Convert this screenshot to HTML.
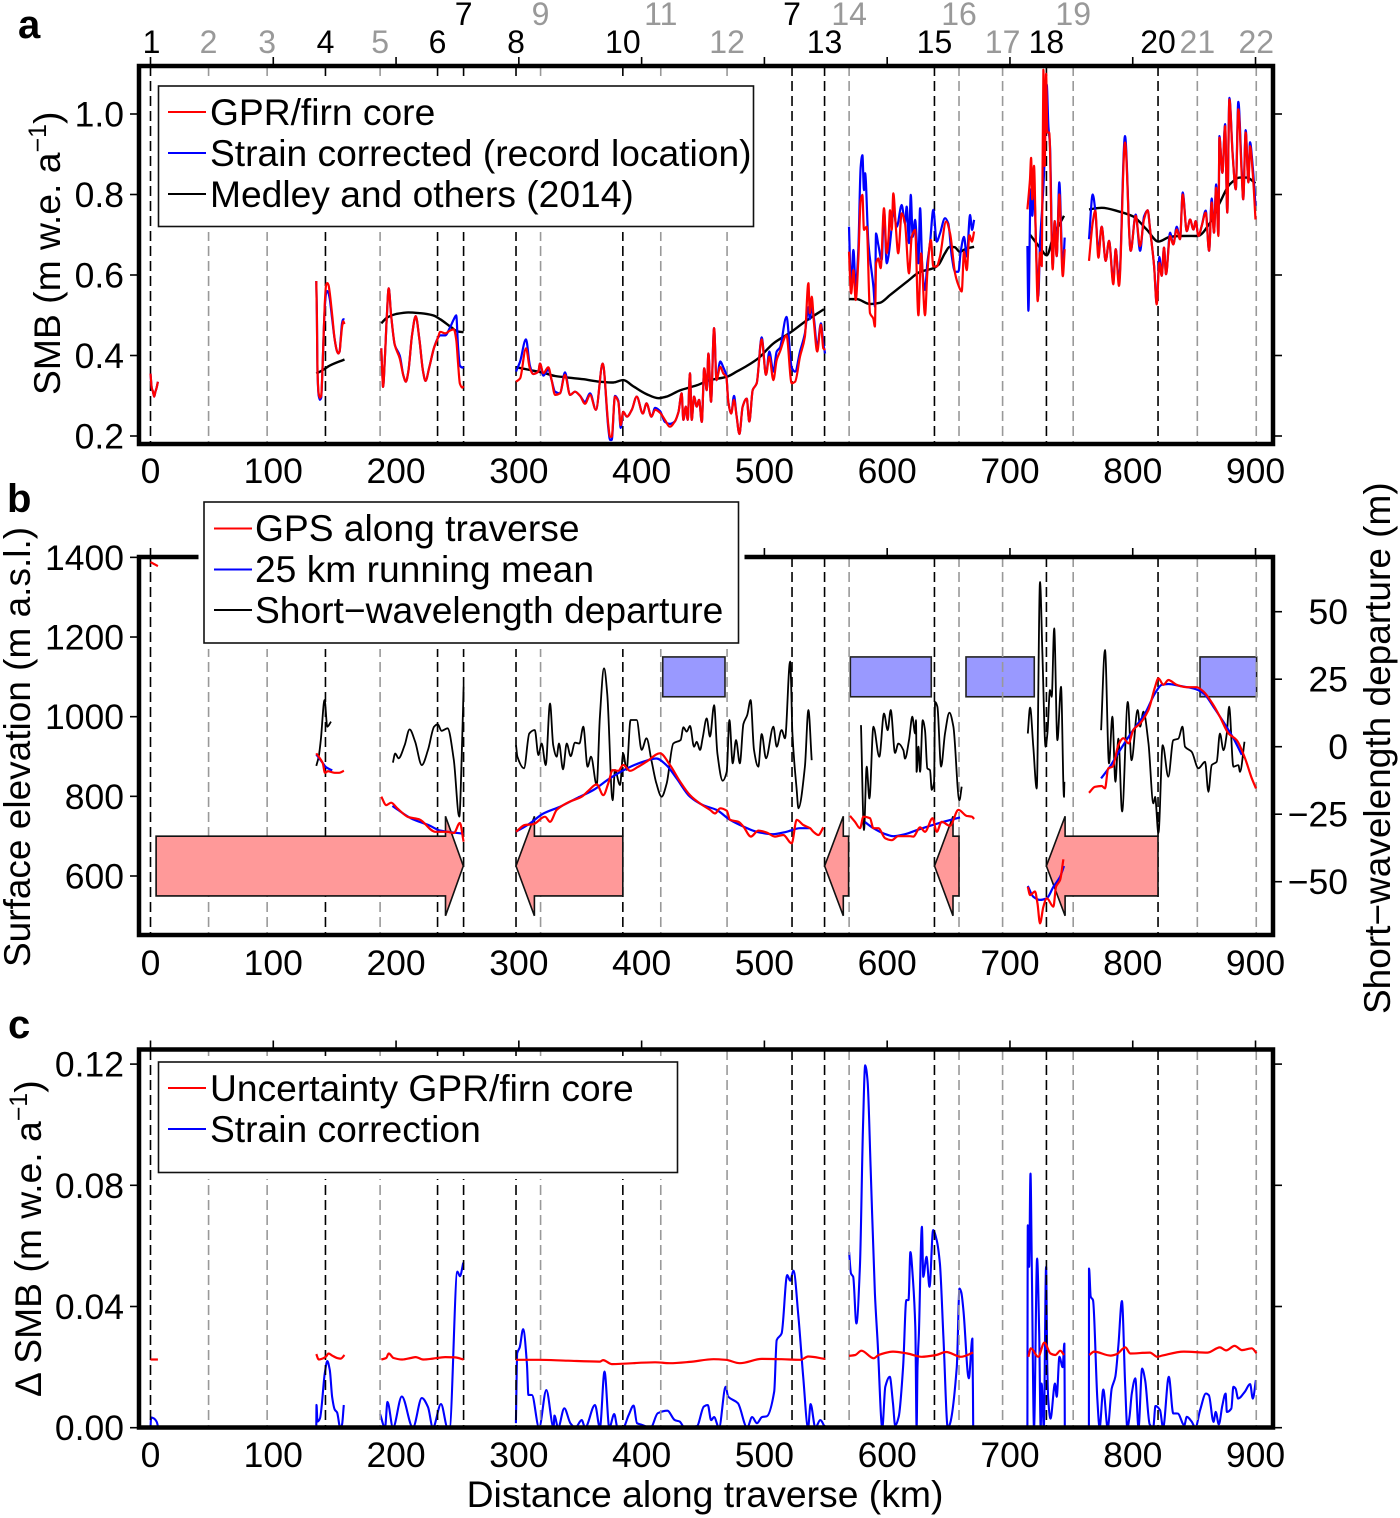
<!DOCTYPE html>
<html lang="en">
<head>
<meta charset="utf-8">
<title>SMB and surface elevation along traverse</title>
<style>
html,body{margin:0;padding:0;background:#fff;}
svg{display:block;font-family:"Liberation Sans",sans-serif;}
svg text{fill:#000;}
</style>
</head>
<body>
<svg id="chart" xmlns="http://www.w3.org/2000/svg" width="1400" height="1518" viewBox="0 0 1400 1518">
  <g id="layer-a"></g>
  <g id="layer-b"></g>
  <g id="layer-c"></g>

  <text x="18" y="38" font-size="40" font-weight="bold">a</text>
  <text x="7" y="512" font-size="40" font-weight="bold">b</text>
  <text x="8" y="1038" font-size="40" font-weight="bold">c</text>

  <text transform="translate(60,395) rotate(-90)" font-size="37.3">SMB (m w.e. a<tspan dy="-14" font-size="25">−1</tspan><tspan dy="14">)</tspan></text>
  <text transform="translate(30,967) rotate(-90)" font-size="37">Surface elevation (m a.s.l.)</text>
  <text transform="translate(1390,1014) rotate(-90)" font-size="37">Short−wavelength departure (m)</text>
  <text transform="translate(41,1397) rotate(-90)" font-size="37.3">Δ SMB (m w.e. a<tspan dy="-14" font-size="25">−1</tspan><tspan dy="14">)</tspan></text>
  <text x="705" y="1507" font-size="37.3" text-anchor="middle">Distance along traverse (km)</text>

  <g>
    <rect x="153" y="80" width="606" height="152" fill="#fff"/>
    <rect x="158.5" y="86" width="595" height="140.5" fill="#fff" stroke="#111" stroke-width="1.6"/>
    <line x1="168" x2="206" y1="112" y2="112" stroke="#f00" stroke-width="2"/>
    <line x1="168" x2="206" y1="153" y2="153" stroke="#00f" stroke-width="2"/>
    <line x1="168" x2="206" y1="194" y2="194" stroke="#000" stroke-width="2"/>
    <text x="210" y="125" font-size="37.2">GPR/firn core</text>
    <text x="210" y="166" font-size="37.2">Strain corrected (record location)</text>
    <text x="210" y="207" font-size="37.2">Medley and others (2014)</text>
  </g>
  <g>
    <rect x="198.5" y="496" width="546" height="153" fill="#fff"/>
    <rect x="204" y="502" width="534.5" height="141" fill="#fff" stroke="#111" stroke-width="1.6"/>
    <line x1="214" x2="252" y1="528.5" y2="528.5" stroke="#f00" stroke-width="2"/>
    <line x1="214" x2="252" y1="569.5" y2="569.5" stroke="#00f" stroke-width="2"/>
    <line x1="214" x2="252" y1="610" y2="610" stroke="#000" stroke-width="2"/>
    <text x="255" y="541" font-size="37.2">GPS along traverse</text>
    <text x="255" y="582" font-size="37.2">25 km running mean</text>
    <text x="255" y="623" font-size="37.2">Short−wavelength departure</text>
  </g>
  <g>
    <rect x="153" y="1056" width="531" height="123" fill="#fff"/>
    <rect x="158.5" y="1062" width="519" height="110.5" fill="#fff" stroke="#111" stroke-width="1.6"/>
    <line x1="168" x2="206" y1="1088" y2="1088" stroke="#f00" stroke-width="2"/>
    <line x1="168" x2="206" y1="1129" y2="1129" stroke="#00f" stroke-width="2"/>
    <text x="210" y="1101" font-size="37.2">Uncertainty GPR/firn core</text>
    <text x="210" y="1142" font-size="37.2">Strain correction</text>
  </g>
  <g id="site-labels"></g>
</svg>

<script>
/* ---------- shared axis data ---------- */
const distanceTicks = [0,100,200,300,400,500,600,700,800,900];
const siteKm = [0,47.3,95,142.5,187,233.8,255,297.7,317.7,384.7,415.6,469.6,522.5,549,569,638.5,658.5,694,729.7,751.5,820.6,852.6,900.6];
const siteMajor = [1,0,0,1,0,1,1,1,0,1,0,0,1,1,0,1,0,0,1,0,1,0,0];
const siteNames = ['1','2','3','4','5','6','7','8','9','10','11','12','7','13','14','15','16','17','18','19','20','21','22'];
const siteUpperRow = [0,0,0,0,0,0,1,0,1,0,1,0,1,0,1,0,1,0,0,1,0,0,0];

const smbTicks = [0.2,0.4,0.6,0.8,1.0];
const smbTickLabels = ['0.2','0.4','0.6','0.8','1.0'];
const elevTicks = [600,800,1000,1200,1400];
const elevTickLabels = ['600','800','1000','1200','1400'];
const departTicks = [50,25,0,-25,-50];
const departTickLabels = ['50','25','0','−25','−50'];
const deltaTicks = [0,0.04,0.08,0.12];
const deltaTickLabels = ['0.00','0.04','0.08','0.12'];

/* ---------- panel a ---------- */
const gprKm = [
 [0,1,2,3,4,5,6],
 [135,135.5,136,137,138,139,140,141,142,143,144,145,146,148,150,152,153,154,155,156,157,158],
 [188,189,189.4,191,192.5,194,196,199,203,206,208,210,213,216,219,222,224,227,231,234,236,240,244,247,249,250.5,252,254,255],
 [297.7,301,305.8,309,311.8,315.9,317.2,320,324,326.7,329.5,333.5,337.6,341.7,345.7,349.8,353.9,358,362.8,368.3,373,374.3,375.6,378.3,381,383,385,388,392,396,401,404,408,411,415,419,423,427,430,432.6,434,436,437.5,439.4,440.8,442.7,444.9,446.8,449,451,453,454.4,456.5,459,461,464,466.6,469,470.6,473,475.2,477.4,479.6,482.3,485.6,487.7,490.5,493.7,497.8,501.3,504,507.3,510,512.7,518,522.2,525,529,533,535.8,537,538.5,540.4,543,546,548,549.4],
 [568.9,570.6,572.5,574.4,576.5,578.4,579.8,581.1,583.3,586,588.7,590,591,592.8,594.7,597.4,599.6,601,602.3,603.7,605,607,609,611.8,614.5,617.8,620,622.7,625.4,627.6,630.8,632.7,635.5,637.6,640.3,643,648,651.2,655.3,658,660.7,662.6,664.8,667,669,670.8],
 [714.2,716.3,717.2,718.2,719.6,721,722.6,724.5,725.9,727.2,728.3,729.4,730.5,732,734.8,736.4,738,740.2,743,744.6],
 [764.4,767.4,769.5,772,774.7,778,780.7,784.2,786.1,788.8,793.7,798.3,802.4,806,809.2,812.2,814.1,817.4,819.5,821.7,823.6,825.5,827.1,830.4,833,835.8,838.5,840.7,844,846.7,849.4,851.3,853.5,856.2,859.4,862.2,864.3,866.2,867.9,869.8,870.6,873,875.2,877,878.7,881.4,883.9,886,888.8,890,892,894.2,895.5,897.7,900]
];
const gprSmb = [
 [0.355,0.32,0.31,0.298,0.31,0.32,0.335],
 [0.585,0.5,0.36,0.305,0.295,0.3,0.36,0.45,0.53,0.575,0.58,0.575,0.555,0.5,0.44,0.41,0.405,0.41,0.44,0.47,0.485,0.478],
 [0.418,0.34,0.322,0.4,0.5,0.567,0.5,0.426,0.393,0.35,0.335,0.36,0.45,0.498,0.44,0.36,0.337,0.37,0.42,0.443,0.459,0.455,0.462,0.465,0.44,0.38,0.33,0.32,0.324],
 [0.335,0.343,0.418,0.368,0.354,0.36,0.38,0.356,0.371,0.339,0.302,0.306,0.352,0.302,0.31,0.3,0.28,0.302,0.265,0.38,0.223,0.198,0.198,0.298,0.285,0.227,0.26,0.248,0.265,0.298,0.256,0.281,0.248,0.265,0.258,0.24,0.223,0.236,0.26,0.306,0.24,0.273,0.24,0.356,0.24,0.298,0.273,0.29,0.235,0.368,0.314,0.405,0.285,0.468,0.339,0.372,0.355,0.347,0.285,0.256,0.29,0.248,0.205,0.273,0.293,0.236,0.314,0.331,0.44,0.352,0.397,0.339,0.389,0.41,0.45,0.331,0.335,0.397,0.447,0.58,0.505,0.546,0.48,0.41,0.476,0.418,0.414],
 [0.658,0.554,0.612,0.538,0.637,0.786,0.799,0.712,0.72,0.505,0.492,0.472,0.629,0.641,0.617,0.766,0.654,0.687,0.761,0.712,0.803,0.72,0.654,0.753,0.728,0.604,0.695,0.712,0.5,0.654,0.5,0.604,0.687,0.621,0.621,0.646,0.733,0.704,0.604,0.575,0.559,0.658,0.612,0.699,0.683,0.708],
 [0.763,0.838,0.891,0.788,0.871,0.705,0.535,0.656,0.622,1.11,0.871,1.1,0.954,0.954,0.614,0.734,0.647,0.8,0.597,0.664],
 [0.635,0.73,0.76,0.643,0.72,0.635,0.685,0.577,0.664,0.573,0.929,0.66,0.747,0.672,0.738,0.761,0.713,0.622,0.527,0.63,0.598,0.668,0.602,0.697,0.676,0.713,0.689,0.8,0.709,0.738,0.713,0.734,0.697,0.722,0.755,0.66,0.78,0.705,0.817,0.697,0.941,0.854,0.97,0.755,1.036,0.896,0.813,1.012,0.846,0.788,0.954,0.83,0.92,0.854,0.738]
];
const strainKm = [
 gprKm[0], gprKm[1], gprKm[2], gprKm[3],
 [568.9,570.6,572.5,574.4,576.5,578.4,579.8,581.1,582,584.7,588.8,590.1,590.9,592.8,595.5,597.4,599.6,601,603.7,605,607.8,611.8,614.5,615.9,617.8,619.2,620.8,622.7,625.4,626.8,628.7,630.8,632.7,634.9,637.6,640.3,643,647.1,649.8,652.6,655.3,658,659.9,662.6,664.8,667.5,669.1,670.8],
 [714.2,715,716.9,718.2,719.6,721.8,723.1,724.5,726.7,728,729.9,731.3,732.6,734.8,736.4,738.1,740.2,743,744.6],
 gprKm[6]
];
const strainSmb = [
 [0.355,0.32,0.31,0.298,0.31,0.32,0.335],
 [0.585,0.5,0.36,0.3,0.29,0.295,0.36,0.45,0.52,0.555,0.56,0.555,0.54,0.49,0.44,0.41,0.405,0.41,0.445,0.48,0.49,0.49],
 [0.418,0.34,0.322,0.4,0.5,0.567,0.5,0.426,0.4,0.35,0.335,0.36,0.45,0.498,0.44,0.36,0.337,0.37,0.42,0.443,0.45,0.45,0.47,0.49,0.5,0.42,0.375,0.37,0.372],
 [0.36,0.385,0.44,0.375,0.354,0.36,0.38,0.35,0.365,0.339,0.31,0.306,0.358,0.302,0.31,0.3,0.285,0.306,0.265,0.38,0.215,0.19,0.19,0.3,0.288,0.22,0.26,0.248,0.265,0.298,0.256,0.281,0.248,0.27,0.262,0.235,0.23,0.236,0.26,0.306,0.24,0.273,0.24,0.356,0.24,0.298,0.273,0.29,0.235,0.368,0.314,0.405,0.285,0.468,0.339,0.385,0.37,0.35,0.285,0.256,0.3,0.248,0.205,0.273,0.293,0.236,0.314,0.331,0.445,0.352,0.41,0.36,0.41,0.42,0.496,0.37,0.36,0.41,0.455,0.52,0.49,0.52,0.49,0.42,0.48,0.43,0.405],
 [0.72,0.571,0.662,0.571,0.662,0.869,0.898,0.811,0.853,0.679,0.571,0.521,0.703,0.675,0.637,0.762,0.629,0.646,0.72,0.762,0.72,0.774,0.728,0.77,0.679,0.799,0.695,0.737,0.629,0.766,0.612,0.563,0.629,0.679,0.762,0.683,0.703,0.741,0.728,0.646,0.608,0.608,0.658,0.695,0.646,0.749,0.712,0.737],
 [0.672,0.511,0.813,0.747,0.813,0.622,0.548,0.68,0.788,0.871,1.074,0.97,0.921,0.622,0.734,0.647,0.83,0.614,0.693],
 [0.689,0.8,0.76,0.66,0.72,0.635,0.685,0.585,0.664,0.585,0.945,0.66,0.75,0.66,0.745,0.761,0.713,0.622,0.53,0.645,0.598,0.668,0.602,0.705,0.676,0.72,0.689,0.805,0.709,0.738,0.713,0.734,0.697,0.722,0.76,0.66,0.79,0.705,0.825,0.7,0.945,0.854,0.975,0.755,1.04,0.9,0.813,1.03,0.855,0.788,0.96,0.83,0.93,0.87,0.772]
];
const medleyKm = [
 [135,141,146,158],
 [188,193,200,210,220,230,236,245,250,255],
 [297.7,309,320,329.5,337.6,352.5,366,377,385,393,404,413.6,420.4,431,445,455.7,469.3,477.4,485.6,495,507.3,521,534.4,548.5],
 [569,575,586,594,602.3,616,627,637.6,641.7,647,651,655,659,664.8,670.8],
 [716.3,724.5,730,735.4,744],
 [764.4,774.7,789.6,800.5,811.4,820.9,830.4,838.5,852.9,863,871,879,887.4,892.8,900]
];
const medleySmb = [
 [0.355,0.365,0.375,0.39],
 [0.48,0.495,0.503,0.507,0.505,0.5,0.49,0.47,0.46,0.458],
 [0.371,0.364,0.357,0.349,0.346,0.341,0.335,0.333,0.339,0.324,0.304,0.294,0.298,0.313,0.326,0.339,0.347,0.36,0.374,0.393,0.43,0.457,0.487,0.515],
 [0.54,0.54,0.528,0.531,0.55,0.583,0.608,0.617,0.625,0.654,0.67,0.669,0.658,0.666,0.67],
 [0.7,0.668,0.649,0.697,0.747],
 [0.763,0.767,0.757,0.745,0.713,0.683,0.695,0.697,0.697,0.73,0.78,0.825,0.842,0.842,0.828]
];

/* ---------- panel b ---------- */
const gpsKm = [
 [0,3,6],
 [135,140.3,142.1,144.6,150,153.7,157.5],
 [188,192,196,201,210,219,232,241.6,247,252,255],
 [297.7,305,311.8,321.3,325.4,330.8,336.2,341.7,351.2,356.6,363.4,368.8,372.9,376.4,381,385,390.5,397,404,415,423,431.3,439.4,447.6,455.7,459.8,463.9,469.3,472,478.8,482.9,489,495,501.9,508.6,515.4,522.2,526.3,531.7,537.2,539.9,544,548],
 [569.7,573.8,577.9,580.6,586,588.8,592.8,598.3,603.7,609,618.6,621.3,626.8,630.8,637,640.3,644.4,651.2,658,664.8,669,670.8],
 [714.5,716.4,720.4,722.4,724.5,727.2,730,735.4,737.5,740.8,743.5],
 [764.4,769.3,774.7,777.4,780,783.7,788.3,792.4,796.5,800.5,806,812.8,818.2,820.9,825,829,835.8,843.9,852,857.6,865.7,871,878,884.7,891.5,897,900.4]
];
const gpsElev = [
 [1388,1383,1378],
 [908,883,859,863,859,859,864],
 [799,778,784,770,748,742,711,711,708,733,686],
 [711,728,730,749,736,766,778,787,799,814,830,803,833,866,864,879,864,874,887,908,879,837,803,782,766,757,770,764,741,736,724,699,714,709,699,703,682,741,728,720,711,703,722],
 [751,736,720,749,745,720,720,695,690,700,700,699,722,711,745,711,736,726,766,751,749,743],
 [573,552,561,531,481,523,544,523,573,590,642],
 [809,824,826,820,870,875,929,946,933,967,983,1017,1075,1096,1080,1092,1080,1074,1074,1063,1029,1000,958,941,895,845,820]
];
const meanKm = [
 [135,140,143,148],
 [197,212,227,236,255],
 [297.7,309,320,333.5,347,360.7,374,388,401.4,412,420,428.5,439.4,450,461,472,483,493.7,507,518,529,537],
 [582,588.8,597,605,614.5,624,634.9,645.8,659.3],
 [714.5,719,724.5,730,735.4,740.8,744],
 [774.2,781.5,789.6,800.5,810,818.2,823.6,829,838.6,849.4,857.6,865.7,873.8,882,888.8]
];
const meanElev = [
 [905,885,873,865],
 [776,745,727,714,706],
 [711,732,757,774,795,816,845,870,887,895,879,845,799,778,766,741,724,711,705,711,720,720],
 [735,720,707,700,705,715,726,736,747],
 [575,548,540,544,573,598,625],
 [845,875,916,967,1008,1059,1080,1082,1077,1071,1059,1025,987,946,904]
];
const departKm = [
 [135,137,138.7,141.8,144,147],
 [197.4,199.3,202,207,211,215.5,221,226,231,234,237,242,247,251.5,253.5,255],
 [297.7,298.8,304.2,308.5,313,315.9,318.6,321.9,325.4,328,330.8,332.7,336,339,342.2,345.7,349.3,352.5,356,358.8,363.4,366,369.4,372,376.4,378.3,382.4,385,387.8,391,396,400,404,408,412,416.3,420.4,425.8,431.8,434,436.7,439.4,442.7,444.9,447.6,449.7,453,455.7,459,461.7,466,469.3,471.5,474.2,476.9,480,482.9,486,488.8,491.5,495,497.8,501.3,507.3,510,514,516.8,520.9,521.6,522.8,526.3,527.7,533,535.8,538.5],
 [578.7,581.1,583.3,585.5,588.8,593.6,597.4,600.4,602.9,606.4,609.1,613.2,614.5,617.8,620.5,622.7,623.5,624,625.4,626.8,628.9,630.8,632.7,634.9,636.3,638.2,639,640.9,643.9,647.1,650.7,653.9,658.8,660.7],
 [714.5,716.4,719,721.8,724.5,726.4,729,730.5,732.6,734,736,738.6,741.6,744,744.3],
 [774.2,777.4,780.7,783.4,785.9,788.3,791.3,796,799,804,806,808.7,812.8,816.8,818.2,820.9,824.4,829,833,837.2,840.5,842.6,848,853.5,858.9,861.6,864.3,868.4,871,873.9,876.6,878.5,882,886,887.4,891]
];
const departM = [
 [-7.1,-3.7,2.5,17.3,7.4,9.3],
 [-5.9,-2.5,-4.3,0.6,6.4,1.9,-6.8,-1.2,7.4,8.3,5.9,6.8,-4.9,-25.9,-3.7,22.2],
 [0.6,-3.7,-8,4.9,6.2,-3.1,1.2,-6.8,16,0.6,-3.7,1.2,-8.4,1.2,-3.5,1.5,1.2,7.4,-7.4,-3.7,-14.2,11.1,29,19.7,-19.8,-8.6,-14.2,-2.5,-8.6,9.9,9.9,-1.2,3.1,-5,-13.6,-18.5,-13.6,1.2,2.5,7.2,5.6,7.7,0,1.8,-1.2,3.1,10.5,3.7,15.4,-2.5,-12.6,-9.3,9.9,-6.2,2.5,-6.2,8.4,11.7,17.3,-1.2,-7.4,4.7,-4.3,7.4,0,6.2,3.1,31.5,26,5,-16,-22.8,-7.4,13.6,-5],
 [8,-30.9,-7.4,-19.2,7.4,-3.7,12.3,6.1,13.6,-2.3,1.2,-1.3,-4.4,2.4,11.1,4.9,9.8,-9.3,0,-9.3,9.8,6.1,-8,-8.7,-16,-13,16.6,14.8,-7.4,4.9,12.6,7.4,-19.8,-14.8],
 [4.9,14.5,0,-15.5,61,34.5,0,4.9,21,18.5,43.8,2.4,22.2,-18.6,-13],
 [6.1,35.8,-6.2,11.1,-13,3,-24,16.6,-5,13.6,7.4,13,1.2,-21,-18.6,-32,0.6,-11.1,2.4,3,7.4,0,-1.9,-8,-5.6,-16.7,-6.8,-5.6,4.9,-1.3,4.9,14.8,-7.4,-6.8,-9.3,1.8]
];
const boxStartKm = [417.2,570,664.2,854.8];
const boxEndKm = [467.9,635.9,719.8,900.9];
const boxElevLow = [1050,1050,1050,1050];
const boxElevHigh = [1150,1150,1150,1150];
const arrowTailKm = [4.6,384.7,568.6,658.5,820.6];
const arrowBaseKm = [240.3,312.7,564.3,653.6,744.9];
const arrowTipKm = [254.8,297.7,549,638.5,729.7];
const arrowShaftElev = [550,700];
const arrowHeadElev = [500,750];
const arrowMidElev = [625];

/* ---------- panel c ---------- */
const uncertaintyKm = [
 [0,6],
 [135,137,140,143,145,148,152,155,158],
 [188,192,194,198,205,212,216,222,230,240,248,255],
 [297.6,316,340,366,368.6,375.7,411,423,439,458.6,468.5,480,498,514,529.6,535.6,549.4],
 [569,574,579,589,593,604.7,616.5,628,640,648,660,670],
 [715,717,723,728,733,737,741,744],
 [764.6,768.5,782,787,794,798,814,820,824,841.5,861,871,876,883,889,897,900.8]
];
const uncertaintySmb = [
 [0.0225,0.0225],
 [0.0243,0.0225,0.0228,0.0235,0.0245,0.0238,0.023,0.0228,0.024],
 [0.0225,0.023,0.0245,0.023,0.0225,0.023,0.0233,0.0225,0.0228,0.0233,0.0232,0.0225],
 [0.0224,0.0224,0.0221,0.0218,0.0223,0.021,0.0216,0.0213,0.0217,0.0226,0.0224,0.0213,0.0227,0.0226,0.0224,0.0235,0.0227],
 [0.0237,0.024,0.0254,0.0229,0.024,0.0251,0.0245,0.0234,0.024,0.025,0.0234,0.0248],
 [0.0234,0.0262,0.0234,0.0281,0.0245,0.024,0.0254,0.024],
 [0.024,0.0251,0.0238,0.0243,0.0265,0.0245,0.0248,0.0234,0.0238,0.0251,0.0248,0.0265,0.0255,0.027,0.0256,0.0262,0.0246]
];
const correctionKm = [
 [0,0.5,3,5,6,6.2],
 [135,135.2,136,138,142,144,146,148,150,152,154.5,156,157.4],
 [187,191,193,197.5,204.7,213.7,221,226,230,236.6,242,243.5,250,252,254.8],
 [297.6,298.7,300.7,303.5,306.6,307.8,310.6,316.5,322.4,328.3,329,332,337,342,346,351.2,354,362,366,369.8,373.7,377.7,380.4,384.8,389.5,393.5,396.2,400,407.3,413.2,421,427,431,435,445,450.7,453.9,456.6,459,463,468.5,470.4,478.4,486,490,494,498,502,508,510,514,518.6,521,523.7,527.7,531.6,535.6,537.6,541.5,545.5,549.4],
 [569,570.5,572.3,574.9,577.8,580.3,582.1,584,586.5,590,592.3,596,598.5,602.1,604.7,606.5,609.4,613,615.6,617.4,618.9,621,622.9,624,624.7,625.8,628.3,629.4,632,634.5,637.4,640.3,642.9,645.8,649.4,651,656.7,658.9,660.3,662.1,666.5,669.4,670.1],
 [714.2,714.5,715.6,716.7,717.8,719.6,722.1,723.8,725,725.8,727.6,729.4,730.4,731.2,733,736.7,738.1,740.3,742.9,744.3,744.7],
 [764.3,764.4,765.8,767.6,771.2,773,776,779.6,782.9,785.8,788.3,791.2,793.8,795.6,797.4,799.2,802.1,804.7,807.6,810.1,813.8,816.7,818.5,822.2,824.7,829.4,833,836.6,842,844,848,851,854.9,859.6,862,865.8,867.6,870.1,873,875.6,876.7,880.3,882,883.8,885.8,891.2,895.6,897.8,900.3]
];
const correctionSmb = [
 [0,0.0034,0.003,0.002,0.0005,0],
 [0,0.0075,0.002,0.003,0.018,0.022,0.019,0.01,0.006,0.005,0,0.001,0.0075],
 [0.0045,0,0.0085,0,0.0103,0,0.0098,0.0068,0,0.0078,0,0,0.0515,0.05,0.0545],
 [0.0015,0.0246,0.0265,0.0325,0.0212,0.0108,0.0108,0,0.0124,0,0.004,0,0.0064,0.0015,0,0.0025,0,0.0075,0,0.0185,0,0.0045,0,0,0.0042,0.0073,0.0015,0.001,0,0.0048,0.0056,0.0025,0.002,0,0.0005,0.007,0.0075,0.0025,0.0035,0,0.0135,0.0103,0.0081,0,0.0035,0.0015,0.0035,0.0038,0.0119,0.0289,0.0311,0.0504,0.0485,0.0518,0.0367,0.0168,0,0.0078,0,0.0025,0],
 [0.058,0.0509,0.0498,0.0344,0.0531,0.0993,0.1196,0.1147,0.0861,0.0443,0.0278,0,0.0135,0.0168,0.008,0.0008,0.0036,0.0201,0.0421,0.0421,0.058,0.0487,0.0333,0,0.02,0.0311,0.0663,0.0498,0.0564,0.0465,0.0652,0.0619,0.0542,0.03,0,0.0011,0.0201,0.0459,0.0448,0.0388,0.0163,0.0294,0],
 [0,0.0668,0.0531,0.0839,0.0531,0,0.0558,0.0311,0,0.0146,0,0.0531,0.02,0.0091,0.003,0.0146,0.0102,0.0234,0.02,0.0278,0],
 [0,0.0525,0.0432,0.0421,0.0091,0,0.0126,0,0.0129,0.0168,0.0272,0.0418,0.0146,0,0.0036,0.0113,0.0163,0,0.0195,0.0157,0.0011,0,0.0072,0.0058,0,0.0168,0.0047,0.0047,0.0008,0.0036,0.002,0,0.0058,0.0113,0.0107,0.0019,0.0052,0.0011,0.0074,0.0113,0.0052,0.0063,0.0135,0.0129,0.0096,0.0118,0.0144,0.0096,0.0157]
];

/* ---------- axis functions ---------- */
const xKm = d => 150.5 + 1.2278 * d;
const yA = v => 436 - (v - 0.2) * 402.5;
const yB = e => 876 - (e - 600) * 0.3983;
const yBRight = m => 746.7 - m * 2.7;
const yC = v => 1427.7 - v * 3030;

const SVGNS = 'http://www.w3.org/2000/svg';
const FRAME_L = 139, FRAME_R = 1273;

/* Monotone cubic interpolation so peaks look rounded without overshooting. */
function monotonePath(xs, ys) {
  const n = xs.length;
  if (n < 3) {
    return xs.map((x, i) => (i ? 'L' : 'M') + x.toFixed(1) + ' ' + ys[i].toFixed(1)).join('');
  }
  const slopes = [];
  for (let i = 0; i < n - 1; i++) {
    const dx = xs[i + 1] - xs[i];
    slopes.push(dx > 0 ? (ys[i + 1] - ys[i]) / dx : 0);
  }
  const tang = [slopes[0]];
  for (let i = 1; i < n - 1; i++) {
    const a = slopes[i - 1], b = slopes[i];
    if (a * b <= 0) {
      tang.push(0);
    } else {
      tang.push(2 * a * b / (a + b));
    }
  }
  tang.push(slopes[n - 2]);
  let d = 'M' + xs[0].toFixed(1) + ' ' + ys[0].toFixed(1);
  for (let i = 0; i < n - 1; i++) {
    const h = (xs[i + 1] - xs[i]) / 3;
    d += 'C' + (xs[i] + h).toFixed(2) + ' ' + (ys[i] + tang[i] * h).toFixed(2) + ' ' +
         (xs[i + 1] - h).toFixed(2) + ' ' + (ys[i + 1] - tang[i + 1] * h).toFixed(2) + ' ' +
         xs[i + 1].toFixed(1) + ' ' + ys[i + 1].toFixed(1);
  }
  return d;
}

function drawSeries(parent, kmSegs, valSegs, yFn, color, width, seriesName) {
  kmSegs.forEach((km, i) => {
    const vals = valSegs[i];
    const xs = [];
    const ys = [];
    km.forEach((k, j) => {
      if (j < vals.length) {
        xs.push(xKm(k));
        ys.push(yFn(vals[j]));
      }
    });
    const line = document.createElementNS(SVGNS, 'path');
    
    
    line.setAttribute('d', monotonePath(xs, ys));
    line.setAttribute('fill', 'none');
    line.setAttribute('stroke', color);
    line.setAttribute('stroke-width', width);
    line.setAttribute('stroke-linejoin', 'round');
    parent.appendChild(line);
  });
}

function drawSiteLines(parent, top, bottom) {
  siteKm.forEach((k, i) => {
    const line = document.createElementNS(SVGNS, 'line');
    
    
    line.setAttribute('x1', xKm(k));
    line.setAttribute('x2', xKm(k));
    line.setAttribute('y1', top);
    line.setAttribute('y2', bottom);
    line.setAttribute('stroke', siteMajor[i] ? '#000' : '#999');
    line.setAttribute('stroke-width', 1.6);
    line.setAttribute('stroke-dasharray', '10 5');
    parent.appendChild(line);
  });
}

function drawFrame(parent, top, bottom, baseY, frameName) {
  const frame = document.createElementNS(SVGNS, 'rect');
  
  
  frame.setAttribute('x', FRAME_L);
  frame.setAttribute('y', top);
  frame.setAttribute('width', FRAME_R - FRAME_L);
  frame.setAttribute('height', bottom - top);
  frame.setAttribute('fill', 'none');
  frame.setAttribute('stroke', '#000');
  frame.setAttribute('stroke-width', 4.5);
  parent.appendChild(frame);
  distanceTicks.forEach(t => {
    const tick = document.createElementNS(SVGNS, 'line');
    
    
    tick.setAttribute('x1', xKm(t));
    tick.setAttribute('x2', xKm(t));
    tick.setAttribute('y1', top - 9);
    tick.setAttribute('y2', top);
    tick.setAttribute('stroke', '#000');
    tick.setAttribute('stroke-width', 1.6);
    parent.appendChild(tick);
    const label = document.createElementNS(SVGNS, 'text');
    
    
    label.setAttribute('x', xKm(t));
    label.setAttribute('y', baseY);
    label.setAttribute('font-size', 35.5);
    label.setAttribute('text-anchor', 'middle');
    label.textContent = String(t);
    parent.appendChild(label);
  });
}

function drawYTicks(parent, values, labels, yFn, side) {
  values.forEach((v, i) => {
    const y = yFn(v);
    const tick = document.createElementNS(SVGNS, 'line');
    
    
    tick.setAttribute('x1', side === 'right' ? FRAME_R : FRAME_L - 9);
    tick.setAttribute('x2', side === 'right' ? FRAME_R + 9 : FRAME_L);
    tick.setAttribute('y1', y);
    tick.setAttribute('y2', y);
    tick.setAttribute('stroke', '#000');
    tick.setAttribute('stroke-width', 1.6);
    parent.appendChild(tick);
    if (labels) {
      const label = document.createElementNS(SVGNS, 'text');
      
      
      label.setAttribute('x', side === 'right' ? 1348 : 124);
      label.setAttribute('y', y + 12.5);
      label.setAttribute('font-size', 35.5);
      label.setAttribute('text-anchor', 'end');
      label.textContent = labels[i];
      parent.appendChild(label);
    }
  });
}

/* ---------- panel a drawing ---------- */
const layerA = document.getElementById('layer-a');
drawSiteLines(layerA, 66, 444);
drawSeries(layerA, medleyKm, medleySmb, yA, '#000', 2.4, 'series-medley');
drawSeries(layerA, strainKm, strainSmb, yA, '#00f', 2.2, 'series-strain-corrected');
drawSeries(layerA, gprKm, gprSmb, yA, '#f00', 2.2, 'series-gpr-firn-core');
drawFrame(layerA, 66, 444, 483, 'panel-a-frame');
drawYTicks(layerA, smbTicks, smbTickLabels, yA, 'left');
drawYTicks(layerA, smbTicks, null, yA, 'right');

/* ---------- panel b drawing ---------- */
const layerB = document.getElementById('layer-b');
boxStartKm.forEach((k, i) => {
  const box = document.createElementNS(SVGNS, 'rect');
  
  
  box.setAttribute('x', xKm(k));
  box.setAttribute('y', yB(boxElevHigh[i]));
  box.setAttribute('width', xKm(boxEndKm[i]) - xKm(k));
  box.setAttribute('height', yB(boxElevLow[i]) - yB(boxElevHigh[i]));
  box.setAttribute('fill', '#9999ff');
  box.setAttribute('stroke', '#222');
  box.setAttribute('stroke-width', 1.6);
  layerB.appendChild(box);
});
drawSiteLines(layerB, 557, 935);
arrowTipKm.forEach((tip, i) => {
  const tail = arrowTailKm[i], base = arrowBaseKm[i];
  const pts = [
    [tail, arrowShaftElev[1]], [base, arrowShaftElev[1]], [base, arrowHeadElev[1]],
    [tip, arrowMidElev[0]], [base, arrowHeadElev[0]], [base, arrowShaftElev[0]], [tail, arrowShaftElev[0]]
  ];
  const arrow = document.createElementNS(SVGNS, 'polygon');
  
  
  arrow.setAttribute('points', pts.map(p => xKm(p[0]).toFixed(1) + ',' + yB(p[1]).toFixed(1)).join(' '));
  arrow.setAttribute('fill', '#ff9999');
  arrow.setAttribute('stroke', '#111');
  arrow.setAttribute('stroke-width', 1.6);
  layerB.appendChild(arrow);
});
drawSeries(layerB, departKm, departM, yBRight, '#000', 1.8, 'series-short-wavelength-departure');
drawSeries(layerB, meanKm, meanElev, yB, '#00f', 2.2, 'series-running-mean');
drawSeries(layerB, gpsKm, gpsElev, yB, '#f00', 2.2, 'series-gps');
drawFrame(layerB, 557, 935, 975, 'panel-b-frame');
drawYTicks(layerB, elevTicks, elevTickLabels, yB, 'left');
drawYTicks(layerB, departTicks, departTickLabels, yBRight, 'right');

/* ---------- panel c drawing ---------- */
const layerC = document.getElementById('layer-c');
drawSeries(layerC, correctionKm, correctionSmb, yC, '#00f', 2.1, 'series-strain-correction');
drawSiteLines(layerC, 1050, 1427);
drawSeries(layerC, uncertaintyKm, uncertaintySmb, yC, '#f00', 2.2, 'series-uncertainty');
drawFrame(layerC, 1049.5, 1427.5, 1467, 'panel-c-frame');
drawYTicks(layerC, deltaTicks, deltaTickLabels, yC, 'left');
drawYTicks(layerC, deltaTicks, null, yC, 'right');

/* ---------- site number labels ---------- */
const siteLayer = document.getElementById('site-labels');
siteKm.forEach((k, i) => {
  const label = document.createElementNS(SVGNS, 'text');
  
  
  label.setAttribute('x', xKm(k) + (i === 0 ? 1 : 0));
  label.setAttribute('y', siteUpperRow[i] ? 25 : 53);
  label.setAttribute('font-size', 32);
  label.setAttribute('text-anchor', 'middle');
  label.setAttribute('style', 'fill:' + (siteMajor[i] ? '#000' : '#999'));
  label.textContent = siteNames[i];
  siteLayer.appendChild(label);
});
</script>
</body>
</html>
